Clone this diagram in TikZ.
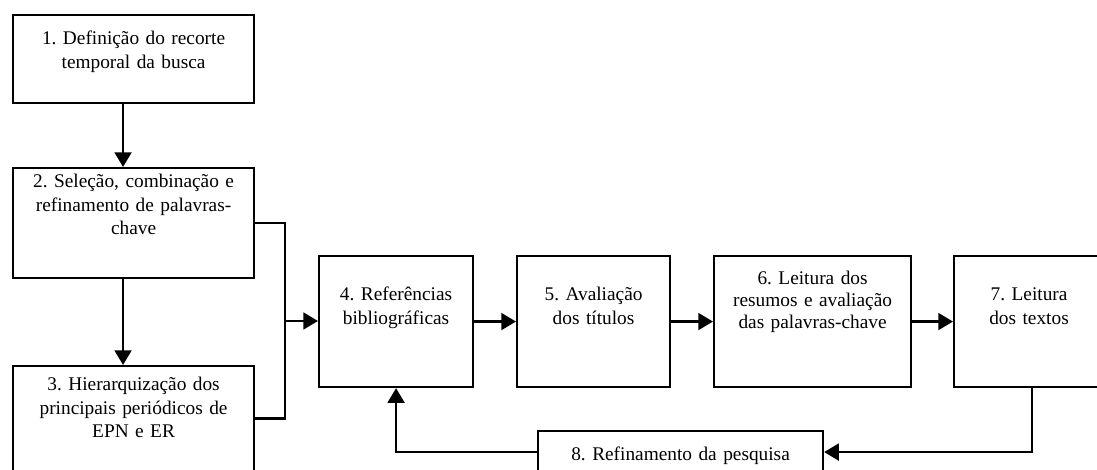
\documentclass[tikz,border=0pt]{standalone}
\usepackage{fontspec}
\setmainfont{Liberation Serif}
\usetikzlibrary{arrows.meta,calc}
\frenchspacing
\begin{document}
\begin{tikzpicture}[x=0.75pt,y=-0.75pt,
  box/.style={draw=black, line width=1.6pt, rectangle, inner sep=0pt, anchor=north west},
  txt/.style={font=\fontsize{14.5}{17.5}\selectfont, align=center, anchor=base,
    inner sep=0pt, text width=200pt},
  link/.style={line width=2.1pt},
  arr/.style={line width=2.1pt, -{Triangle[length=11pt,width=12.5pt]}}]
\useasboundingbox (0,0) rectangle (1097,470);
\clip (0,0) rectangle (1097,470);

% boxes
\node[box, minimum width=180.75pt, minimum height=66pt]    (b1) at (12,14)  {};
\node[box, minimum width=180.75pt, minimum height=82.5pt]  (b2) at (12,167) {};
\node[box, minimum width=180.75pt, minimum height=78.75pt] (b3) at (12,365) {};
\node[box, minimum width=115.5pt,  minimum height=98.25pt] (b4) at (318,255) {};
\node[box, minimum width=114.75pt, minimum height=98.25pt] (b5) at (516,255) {};
\node[box, minimum width=147.75pt, minimum height=98.25pt] (b6) at (713,255) {};
\node[box, minimum width=112.5pt,  minimum height=98.25pt] (b7) at (953,255) {};
\node[box, minimum width=213.75pt, minimum height=31.5pt]  (b8) at (537,430) {};

% labels
\node[txt] (t1) at ($(b1.north)+(0,31)$) {1. Definição do recorte\\temporal da busca};
\node[txt] (t2) at ($(b2.north)+(0,21)$) {2. Seleção, combinação e\\refinamento de palavras-\\chave};
\node[txt] (t3) at ($(b3.north)+(0,26)$) {3. Hierarquização dos\\principais periódicos de\\EPN e ER};
\node[txt] (t4) at ($(b4.north)+(0,46)$) {4. Referências\\bibliográficas};
\node[txt] (t5) at ($(b5.north)+(0,46)$) {5. Avaliação\\dos títulos};
\node[txt, font=\fontsize{14.5}{16.5}\selectfont] (t6) at ($(b6.north)+(0,30)$) {6. Leitura dos\\resumos e avaliação\\das palavras-chave};
\node[txt] (t7) at ($(b7.north)+(0,46)$) {7. Leitura\\dos textos};
\node[txt] (t8) at ($(b8.north)+(0,30)$) {8. Refinamento da pesquisa};

% connectors
\draw[arr] ([xshift=-7.9pt]b1.south) -- ([xshift=-7.9pt]b2.north);
\draw[arr] ([xshift=-7.9pt]b2.south) -- ([xshift=-7.9pt]b3.north);
\coordinate (m) at (285,321);
\draw[link] (b2.east) -| (m);
\draw[link] (b3.east) -| (m);
\draw[arr] (m) -- (m -| b4.west);
\draw[arr] (b4.east) -- (b5.west);
\draw[arr] (b5.east) -- (b6.west);
\draw[arr] (b6.east) -- (b7.west);
\draw[arr] ([xshift=2.25pt]b7.south) |- (b8.east);
\draw[arr] (b8.west) -| (b4.south);
\end{tikzpicture}
\end{document}
